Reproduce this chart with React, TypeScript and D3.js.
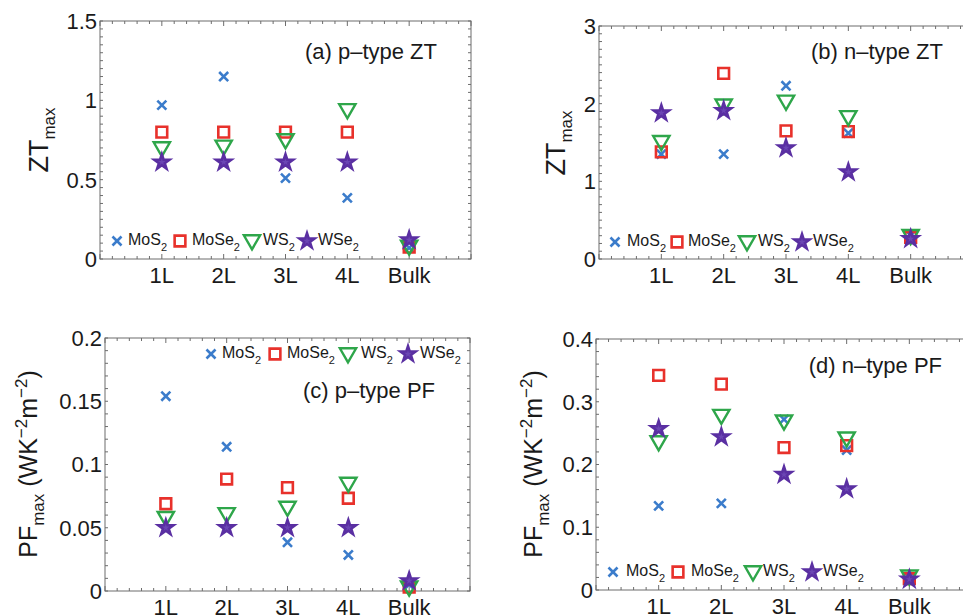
import React from "react";
import * as d3 from "d3";

const categories = ["1L", "2L", "3L", "4L", "Bulk"];
const seriesNames = ["MoS", "MoSe", "WS", "WSe"];

// (a) p-type ZT
const aMoS2 = [0.97, 1.15, 0.51, 0.385, 0.07];
const aMoSe2 = [0.8, 0.8, 0.8, 0.8, 0.075];
const aWS2 = [0.7, 0.71, 0.75, 0.94, 0.08];
const aWSe2 = [0.61, 0.61, 0.61, 0.61, 0.12];
const aTicks = [0, 0.5, 1, 1.5];
const aTickLabels = ["0", "0.5", "1", "1.5"];

// (b) n-type ZT
const bMoS2 = [1.35, 1.35, 2.23, 1.62, 0.3];
const bMoSe2 = [1.38, 2.39, 1.65, 1.64, 0.28];
const bWS2 = [1.51, 1.98, 2.03, 1.83, 0.3];
const bWSe2 = [1.88, 1.91, 1.43, 1.12, 0.26];
const bTicks = [0, 1, 2, 3];
const bTickLabels = ["0", "1", "2", "3"];

// (c) p-type PF
const cMoS2 = [0.154, 0.114, 0.0385, 0.0285, 0.005];
const cMoSe2 = [0.069, 0.0885, 0.0817, 0.0733, 0.003];
const cWS2 = [0.058, 0.061, 0.066, 0.085, 0.003];
const cWSe2 = [0.05, 0.05, 0.05, 0.05, 0.008];
const cTicks = [0, 0.05, 0.1, 0.15, 0.2];
const cTickLabels = ["0", "0.05", "0.1", "0.15", "0.2"];

// (d) n-type PF
const dMoS2 = [0.134, 0.138, 0.272, 0.223, 0.02];
const dMoSe2 = [0.342, 0.328, 0.227, 0.23, 0.018];
const dWS2 = [0.236, 0.278, 0.269, 0.242, 0.022];
const dWSe2 = [0.257, 0.244, 0.184, 0.161, 0.017];
const dTicks = [0, 0.1, 0.2, 0.3, 0.4];
const dTickLabels = ["0", "0.1", "0.2", "0.3", "0.4"];

const COLORS = ["#3b7ccb", "#e8312b", "#2ea64a", "#5a2fa2"];
const FONT = "'Liberation Sans', Arial, Helvetica, sans-serif";

type Panel = {
  key: string;
  title: string;
  series: number[][];
  yMax: number;
  ticks: number[];
  tickLabels: string[];
  minorStep: number;
  rect: { l: number; t: number; r: number; b: number };
  titlePos: [number, number];
  ylabel: "ZT" | "PF";
  ylabelPos: [number, number];
  legend: { y: number; mx: number[]; tx: number[] };
};

const panels: Panel[] = [
  {
    key: "a",
    title: "(a) p\u2013type ZT",
    series: [aMoS2, aMoSe2, aWS2, aWSe2],
    yMax: 1.5,
    ticks: aTicks,
    tickLabels: aTickLabels,
    minorStep: 0.05,
    rect: { l: 100, t: 21, r: 471, b: 259 },
    titlePos: [437, 59],
    ylabel: "ZT",
    ylabelPos: [48, 140],
    legend: { y: 241, mx: [117, 180, 252, 307], tx: [128, 192, 263, 318] },
  },
  {
    key: "b",
    title: "(b) n\u2013type ZT",
    series: [bMoS2, bMoSe2, bWS2, bWSe2],
    yMax: 3,
    ticks: bTicks,
    tickLabels: bTickLabels,
    minorStep: 0.1,
    rect: { l: 599, t: 26, r: 973, b: 259 },
    titlePos: [943, 59],
    ylabel: "ZT",
    ylabelPos: [565, 143],
    legend: { y: 242, mx: [615, 677, 747, 802], tx: [627, 688, 758, 813] },
  },
  {
    key: "c",
    title: "(c) p\u2013type PF",
    series: [cMoS2, cMoSe2, cWS2, cWSe2],
    yMax: 0.2,
    ticks: cTicks,
    tickLabels: cTickLabels,
    minorStep: 0.01,
    rect: { l: 105, t: 338, r: 470, b: 591 },
    titlePos: [435, 398],
    ylabel: "PF",
    ylabelPos: [37, 464],
    legend: { y: 354, mx: [211, 275, 348, 408], tx: [222, 287, 361, 420] },
  },
  {
    key: "d",
    title: "(d) n\u2013type PF",
    series: [dMoS2, dMoSe2, dWS2, dWSe2],
    yMax: 0.4,
    ticks: dTicks,
    tickLabels: dTickLabels,
    minorStep: 0.02,
    rect: { l: 596, t: 339, r: 972, b: 590 },
    titlePos: [942, 373],
    ylabel: "PF",
    ylabelPos: [542, 464],
    legend: { y: 572, mx: [613, 678, 753, 812], tx: [626, 691, 763, 823] },
  },
];

const symX = d3.symbol(d3.symbolX, 55)()!;
const symSquare = d3.symbol(d3.symbolSquare, 115)()!;
const symTri = d3.symbol(d3.symbolTriangle, 115)()!;
const symStar = d3.symbol(d3.symbolStar, 70)()!;

function Marker({ i, x, y }: { i: number; x: number; y: number }) {
  const c = COLORS[i];
  if (i === 0)
    return <path d={symX} transform={`translate(${x},${y})`} fill="none" stroke={c} strokeWidth={2.6} />;
  if (i === 1)
    return <path d={symSquare} transform={`translate(${x},${y})`} fill="none" stroke={c} strokeWidth={2.6} />;
  if (i === 2)
    return <path d={symTri} transform={`translate(${x},${y - 1}) rotate(180)`} fill="none" stroke={c} strokeWidth={2.4} strokeLinejoin="miter" />;
  return <path d={symStar} transform={`translate(${x},${y})`} fill="#6b46b4" stroke={c} strokeWidth={2.6} strokeLinejoin="miter" />;
}

function PanelView({ p }: { p: Panel }) {
  const { l, t, r, b } = p.rect;
  const x = d3.scaleLinear().domain([0, 6]).range([l, r]);
  const y = d3.scaleLinear().domain([0, p.yMax]).range([b, t]);
  const xMinor = d3.range(0, 6.0001, 0.2);
  const yMinor = d3.range(0, p.yMax + 1e-9, p.minorStep);
  const axisColor = "#6d6d6d";
  return (
    <g>
      <rect x={l} y={t} width={r - l} height={b - t} fill="none" stroke={axisColor} strokeWidth={1} />
      {xMinor.map((v, k) => {
        const major = Math.abs(v - Math.round(v)) < 1e-6;
        const len = major ? 5 : 3;
        return (
          <g key={"xm" + k}>
            <line x1={x(v)} x2={x(v)} y1={b} y2={b - len} stroke={axisColor} />
            <line x1={x(v)} x2={x(v)} y1={t} y2={t + len} stroke={axisColor} />
          </g>
        );
      })}
      {yMinor.map((v, k) => (
        <g key={"ym" + k}>
          <line x1={l} x2={l + 3} y1={y(v)} y2={y(v)} stroke={axisColor} />
          <line x1={r} x2={r - 3} y1={y(v)} y2={y(v)} stroke={axisColor} />
        </g>
      ))}
      {p.ticks.map((v, k) => (
        <text key={"yt" + k} x={l - 3} y={y(v)} dy="0.36em" textAnchor="end" fontSize={22} fill="#1a1a1a" fontFamily={FONT}>
          {p.tickLabels[k]}
        </text>
      ))}
      {categories.map((c, k) => (
        <text key={"xt" + k} x={x(k + 1)} y={b + 24} textAnchor="middle" fontSize={22} fill="#1a1a1a" fontFamily={FONT}>
          {c}
        </text>
      ))}
      <text x={p.titlePos[0]} y={p.titlePos[1]} textAnchor="end" fontSize={22} fill="#1a1a1a" fontFamily={FONT}>
        {p.title}
      </text>
      <text
        transform={`translate(${p.ylabelPos[0]},${p.ylabelPos[1]}) rotate(-90)`}
        textAnchor="middle"
        fontSize={p.ylabel === "ZT" ? 27 : 25}
        fill="#1a1a1a"
        fontFamily={FONT}
      >
        {p.ylabel === "ZT" ? (
          <>
            ZT<tspan fontSize={17} dy={7}>max</tspan>
          </>
        ) : (
          <>
            PF<tspan fontSize={17} dy={7}>max</tspan>
            <tspan dy={-7}> (WK</tspan>
            <tspan fontSize={17} dy={-10}>{"\u22122"}</tspan>
            <tspan dy={10}>m</tspan>
            <tspan fontSize={17} dy={-10}>{"\u22122"}</tspan>
            <tspan dy={10}>)</tspan>
          </>
        )}
      </text>
      {p.series.map((vals, si) =>
        vals.map((v, k) => <Marker key={`m${si}-${k}`} i={si} x={x(k + 1)} y={y(v)} />)
      )}
      {seriesNames.map((n, si) => (
        <g key={"lg" + si}>
          <Marker i={si} x={p.legend.mx[si]} y={p.legend.y} />
          <text x={p.legend.tx[si]} y={p.legend.y + 4} fontSize={16} fill="#1a1a1a" fontFamily={FONT}>
            {n}
            <tspan fontSize={11} dy={6}>2</tspan>
          </text>
        </g>
      ))}
    </g>
  );
}

export default function App() {
  return (
    <svg
      width={963}
      height={616}
      style={{ position: "absolute", left: 0, top: 0, background: "#ffffff" }}
    >
      <rect x={0} y={0} width={963} height={616} fill="#ffffff" />
      {panels.map((p) => (
        <PanelView key={p.key} p={p} />
      ))}
    </svg>
  );
}
